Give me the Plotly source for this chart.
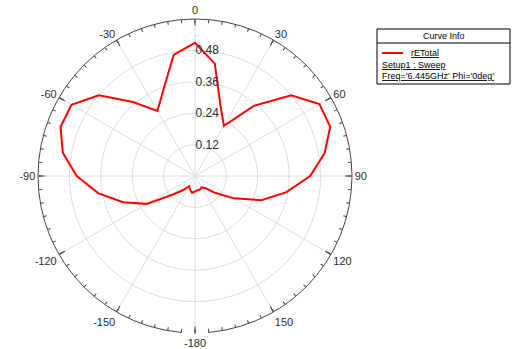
import plotly.graph_objects as go

# Radiation pattern: total E-field vs theta (Phi = 0deg cut)
theta_deg = [-180, -170, -160, -150, -140, -130, -120, -110, -100, -90,
             -80, -70, -60, -50, -40, -30, -20, -10, 0, 10,
             20, 30, 40, 50, 60, 70, 80, 90, 100, 110,
             120, 130, 140, 150, 160, 170, 180]
re_total = [0.060, 0.065, 0.055, 0.045, 0.070, 0.110, 0.213, 0.293, 0.376, 0.452,
            0.513, 0.547, 0.545, 0.480, 0.369, 0.287, 0.352, 0.470, 0.509, 0.436,
            0.285, 0.221, 0.350, 0.480, 0.549, 0.550, 0.503, 0.440, 0.355, 0.270,
            0.171, 0.100, 0.060, 0.050, 0.055, 0.055, 0.060]

radial_ticks = [0.12, 0.24, 0.36, 0.48]
radial_max = 0.6
major_angles = list(range(0, 360, 30))
minor_angles = list(range(0, 360, 5))
major_labels = [str(a if a <= 150 else a - 360) for a in major_angles]

legend_title = "Curve Info"
trace_name = "rETotal"
legend_lines = ["Setup1 : Sweep", "Freq='6.445GHz' Phi='0deg'"]

W, H = 512, 349


def px(x):
    return x / W


def py(y):
    return 1 - y / H


dom_x = [px(38), px(352)]
dom_y = [py(333), py(19)]

fig = go.Figure()
fig.add_trace(go.Scatterpolar(
    r=re_total, theta=theta_deg, mode="lines",
    line=dict(color="#ff0000", width=2), name=trace_name,
    showlegend=False, subplot="polar"))
fig.add_trace(go.Scatterpolar(r=[], theta=[], subplot="polar2", showlegend=False))

tick_font = dict(family="Liberation Sans, Arial, sans-serif", size=11, color="#2b2b2b")
radial_font = dict(family="Liberation Sans, Arial, sans-serif", size=12, color="#2b2b2b")

fig.update_layout(
    width=W, height=H,
    margin=dict(l=0, r=0, t=0, b=0),
    paper_bgcolor="white",
    polar=dict(
        domain=dict(x=dom_x, y=dom_y),
        bgcolor="white",
        angularaxis=dict(
            rotation=90, direction="clockwise",
            tickmode="array", tickvals=major_angles, ticktext=major_labels,
            ticks="inside", ticklen=6, tickcolor="#333333",
            showline=True, linecolor="#444444", linewidth=1,
            showgrid=True, gridcolor="#dcdcdc", gridwidth=1,
            tickfont=tick_font),
        radialaxis=dict(
            range=[0, radial_max], tickmode="array", tickvals=radial_ticks,
            ticktext=[f"{v:.2f}" for v in radial_ticks],
            angle=90, tickangle=90, showline=False, ticks="",
            showgrid=True, gridcolor="#dcdcdc", gridwidth=1,
            tickfont=radial_font),
    ),
    polar2=dict(
        domain=dict(x=dom_x, y=dom_y),
        bgcolor="rgba(0,0,0,0)",
        angularaxis=dict(
            rotation=90, direction="clockwise",
            tickmode="array", tickvals=minor_angles, showticklabels=False,
            ticks="inside", ticklen=3, tickcolor="#444444",
            showline=False, showgrid=False),
        radialaxis=dict(visible=False, range=[0, radial_max]),
    ),
)

# Curve info box
box = dict(x0=377, x1=510, y0=29, y1=84)
shapes = [
    dict(type="rect", xref="paper", yref="paper",
         x0=px(box["x0"]), x1=px(box["x1"]), y0=py(box["y1"]), y1=py(box["y0"]),
         line=dict(color="#000000", width=1), fillcolor="white"),
    dict(type="line", xref="paper", yref="paper",
         x0=px(box["x0"]), x1=px(box["x1"]), y0=py(43), y1=py(43),
         line=dict(color="#000000", width=1)),
    dict(type="line", xref="paper", yref="paper",
         x0=px(382), x1=px(403), y0=py(53), y1=py(53),
         line=dict(color="#ff0000", width=2)),
    # break in the outer ring on either side of the -180 tick
    dict(type="rect", xref="paper", yref="paper",
         x0=px(182), x1=px(194), y0=py(336), y1=py(330.5),
         line=dict(width=0), fillcolor="white"),
    dict(type="rect", xref="paper", yref="paper",
         x0=px(196), x1=px(208), y0=py(336), y1=py(330.5),
         line=dict(width=0), fillcolor="white"),
]
legend_font = dict(family="Liberation Sans, Arial, sans-serif", size=9, color="#000000")
annotations = [
    dict(text=legend_title, x=px(443.5), y=py(36), xref="paper", yref="paper",
         xanchor="center", yanchor="middle", showarrow=False, font=legend_font),
    dict(text=f"<u>{trace_name}</u>", x=px(409), y=py(53), xref="paper", yref="paper",
         xanchor="left", yanchor="middle", showarrow=False, font=legend_font),
]
for i, txt in enumerate(legend_lines):
    annotations.append(dict(text=f"<u>{txt}</u>", x=px(380), y=py(65 + 10.5 * i),
                            xref="paper", yref="paper", xanchor="left", yanchor="middle",
                            showarrow=False, font=legend_font))

fig.update_layout(shapes=shapes, annotations=annotations)
fig.write_html("out.html")
